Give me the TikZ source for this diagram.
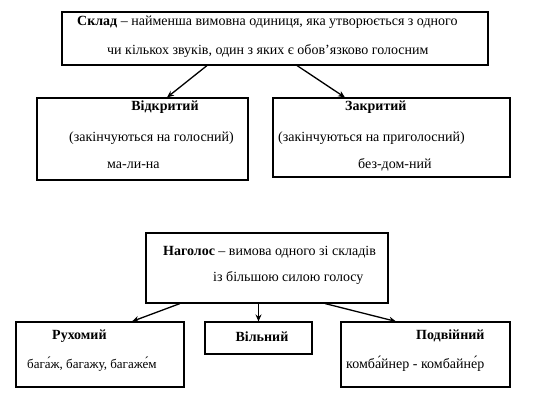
\documentclass[tikz,border=0pt]{standalone}
\usepackage{fontspec}
\setmainfont{Liberation Serif}
\usetikzlibrary{arrows.meta}
\begin{document}
\begin{tikzpicture}[x=1pt,y=-1pt,
  box/.style={draw, line width=1.1pt, inner sep=0pt},
  txt/.style={inner sep=0pt, anchor=west, font=\fontsize{14}{16}\selectfont},
  btxt/.style={txt, font=\fontsize{14}{16}\selectfont\bfseries},
  arr/.style={line width=1.3pt, -{Stealth[length=7pt,width=6pt]}}]
\useasboundingbox (0,0) rectangle (541,417);
% boxes
\node[box, minimum width=426pt, minimum height=53pt] (b1) at (275,38.5) {};
\node[box, minimum width=211pt, minimum height=82pt] (b2) at (142.5,139) {};
\node[box, minimum width=237pt, minimum height=79pt] (b3) at (391.5,137.5) {};
\node[box, minimum width=242pt, minimum height=70pt] (b4) at (267,268) {};
\node[box, minimum width=168pt, minimum height=65pt] (b5) at (100,354.5) {};
\node[box, minimum width=107pt, minimum height=32pt] (b6) at (258.5,338) {};
\node[box, minimum width=169pt, minimum height=65pt] (b7) at (425.5,354.5) {};
% texts
\node[txt] (t1) at (77,22) {\textbf{Склад} – найменша вимовна одиниця, яка утворюється з одного};
\node[txt] (t2) at (107,51) {чи кількох звуків, один з яких є обов’язково голосним};
\node[btxt, anchor=center] (t3) at (165,107) {Відкритий};
\node[txt] (t4) at (69,138) {(закінчуються на голосний)};
\node[txt] (t5) at (107,165) {ма-ли-на};
\node[btxt] (t6) at (345,107) {Закритий};
\node[txt] (t7) at (278,138) {(закінчуються на приголосний)};
\node[txt] (t8) at (358,165) {без-дом-ний};
\node[txt] (t9) at (163,252) {\textbf{Наголос} – вимова одного зі складів};
\node[txt] (t10) at (213,278) {із більшою силою голосу};
\node[btxt] (t11) at (52,336) {Рухомий};
\node[txt, font=\fontsize{13}{15}\selectfont] (t12) at (27,364) {бага́ж, багажу, багаже́м};
\node[btxt, anchor=center] (t13) at (262,337) {Вільний};
\node[btxt] (t14) at (416,336) {Подвійний};
\node[txt] (t15) at (346,364) {комба́йнер - комбайне́р};
% connectors
\draw[arr] ([xshift=-68pt]b1.south) -- ([xshift=24.5pt]b2.north);
\draw[arr] ([xshift=22pt]b1.south) -- ([xshift=-46.5pt]b3.north);
\draw[arr] ([xshift=-87pt]b4.south) -- ([xshift=32pt]b5.north);
\draw[arr] (b6.north |- b4.south) -- (b6.north);
\draw[arr] ([xshift=58pt]b4.south) -- ([xshift=-29.5pt]b7.north);
\end{tikzpicture}
\end{document}
